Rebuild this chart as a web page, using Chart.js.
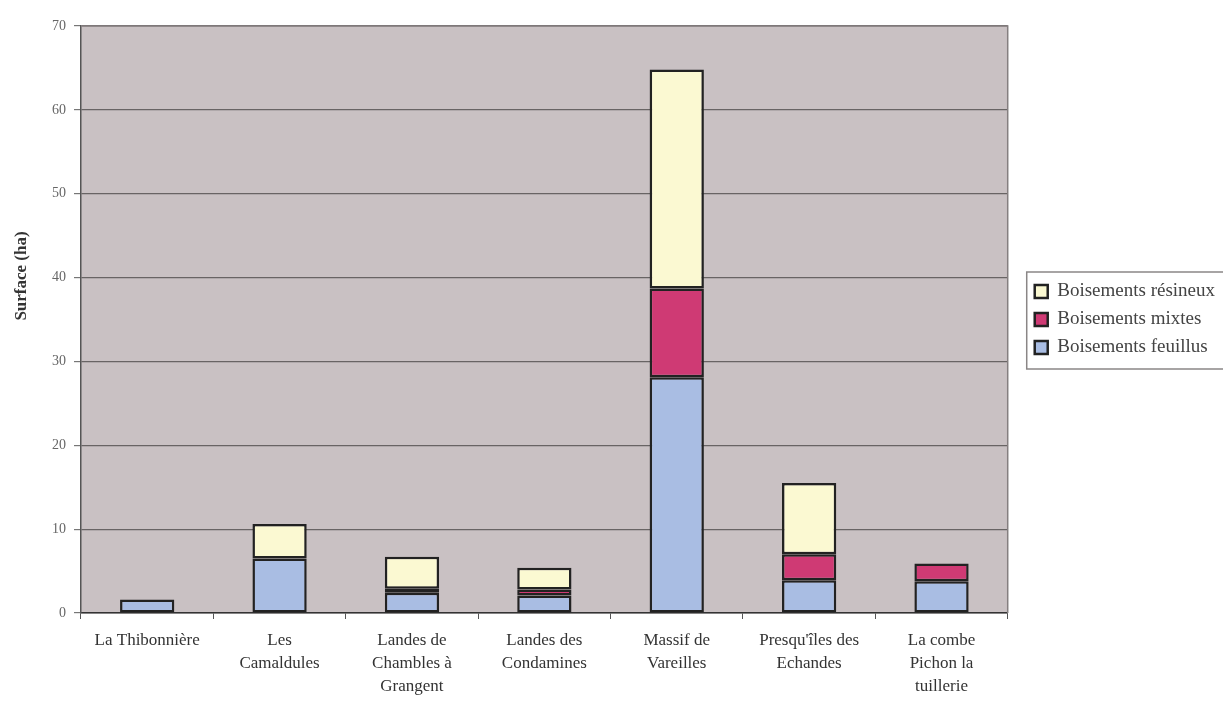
<!DOCTYPE html>
<html>
<head>
<meta charset="utf-8">
<script src="https://cdn.jsdelivr.net/npm/chart.js@4/dist/chart.umd.min.js"></script>
<style>
  html, body { margin: 0; padding: 0; background: #fff; }
  #wrap { width: 1223px; height: 704px; }
</style>
</head>
<body>
<div id="wrap"><canvas id="surfaceChart" width="1223" height="704"></canvas></div>
<script>
// Data (ha)
const sites = [
    'La Thibonnière',
    ['Les', 'Camaldules'],
    ['Landes de', 'Chambles à', 'Grangent'],
    ['Landes des', 'Condamines'],
    ['Massif de', 'Vareilles'],
    ["Presqu'îles des", 'Echandes'],
    ['La combe', 'Pichon la', 'tuillerie']
];
const feuillus = [1.6, 6.5, 2.4, 2.1, 28.1, 3.9, 3.8];
const mixtes = [0, 0, 0.5, 0.7, 10.6, 3.1, 2.1];
const resineux = [0, 4.1, 3.8, 2.6, 26.1, 8.5, 0];
const yTicks = [0, 10, 20, 30, 40, 50, 60, 70];

const serif = '"Liberation Serif", "DejaVu Serif", serif';

// Plot background, plot frame, legend frame and axis title
const framePlugin = {
    id: 'frame',
    beforeDraw(chart) {
        const { ctx, chartArea: a } = chart;
        ctx.save();
        ctx.fillStyle = '#c9c1c3';
        ctx.fillRect(a.left, a.top, a.right - a.left, a.bottom - a.top);
        ctx.restore();
    },
    afterLayout(chart) {
        // nudge the legend to where it sits in the picture
        const lg = chart.legend;
        if (!lg) return;
        const dx = (chart.chartArea.right + 18) - lg.left;
        lg.left += dx;
        lg.right += dx;
    },
    afterDraw(chart) {
        const { ctx, chartArea: a } = chart;
        ctx.save();
        ctx.strokeStyle = '#857f80';
        ctx.lineWidth = 1.5;
        ctx.beginPath();
        ctx.moveTo(a.left, a.top);
        ctx.lineTo(a.right, a.top);
        ctx.lineTo(a.right, a.bottom);
        ctx.stroke();

        const lg = chart.legend;
        if (lg && lg.legendHitBoxes && lg.legendHitBoxes.length) {
            const hb = lg.legendHitBoxes;
            const top = hb[0].top - 10;
            const bottom = hb[hb.length - 1].top + hb[hb.length - 1].height + 12;
            ctx.strokeStyle = '#8a8686';
            ctx.lineWidth = 1.5;
            ctx.strokeRect(lg.left + 1, top, 400, bottom - top);
        }

        // y axis title
        ctx.translate(22, 276);
        ctx.rotate(-Math.PI / 2);
        ctx.fillStyle = '#333';
        ctx.font = 'bold 17px ' + serif;
        ctx.textAlign = 'center';
        ctx.textBaseline = 'middle';
        ctx.fillText('Surface (ha)', 0, 0);
        ctx.restore();
    }
};

const ctx = document.getElementById('surfaceChart').getContext('2d');
const barStyle = {
    borderColor: '#222',
    borderWidth: 2.5,
    borderSkipped: false,
    categoryPercentage: 1,
    barPercentage: 0.41
};

new Chart(ctx, {
    type: 'bar',
    data: {
        labels: sites,
        datasets: [
            { label: 'Boisements feuillus', data: feuillus, backgroundColor: '#a9bde3', ...barStyle },
            { label: 'Boisements mixtes', data: mixtes, backgroundColor: '#cf3a74', ...barStyle },
            { label: 'Boisements résineux', data: resineux, backgroundColor: '#fbf9d2', ...barStyle }
        ]
    },
    options: {
        responsive: false,
        animation: false,
        layout: { padding: { top: 26, left: 0, right: 16, bottom: 0 } },
        plugins: {
            tooltip: { enabled: false },
            legend: {
                position: 'right',
                fullSize: false,
                maxWidth: 200,
                reverse: true,
                labels: {
                    boxWidth: 13,
                    boxHeight: 13,
                    padding: 9,
                    color: '#444',
                    font: { family: serif, size: 19 }
                }
            }
        },
        scales: {
            x: {
                stacked: true,
                afterFit(scale) { scale.height = 91; },
                grid: {
                    drawOnChartArea: false,
                    drawTicks: true,
                    tickLength: 6,
                    color: '#555'
                },
                border: { color: '#333', width: 1.5 },
                ticks: {
                    color: '#333',
                    padding: 10,
                    maxRotation: 0,
                    autoSkip: false,
                    font: { family: serif, size: 17, lineHeight: 1.35 }
                }
            },
            y: {
                stacked: true,
                min: 0,
                max: 70,
                afterFit(scale) { scale.width = 81; },
                afterBuildTicks(scale) {
                    scale.ticks = yTicks.map(v => ({ value: v }));
                },
                grid: {
                    color: '#686464',
                    lineWidth: 1.2,
                    drawTicks: true,
                    tickLength: 7,
                    tickColor: '#777'
                },
                border: { color: '#555', width: 1.5 },
                ticks: {
                    color: '#666',
                    padding: 8,
                    font: { family: serif, size: 14 }
                }
            }
        }
    },
    plugins: [framePlugin]
});
</script>
</body>
</html>
